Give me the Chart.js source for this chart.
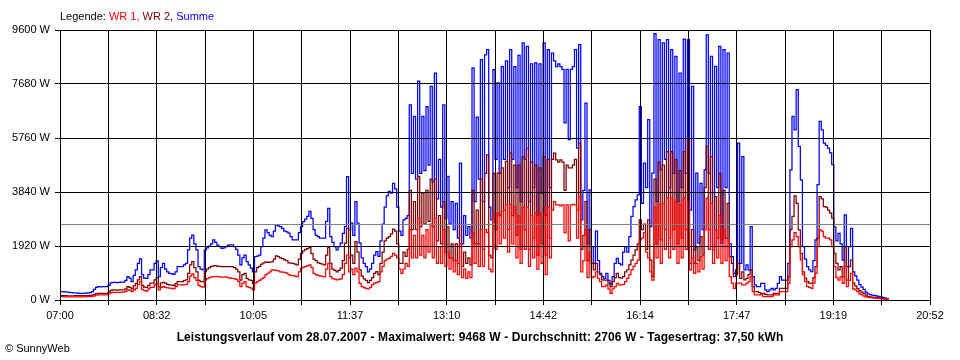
<!DOCTYPE html>
<html>
<head>
<meta charset="utf-8">
<script src="https://cdn.jsdelivr.net/npm/chart.js@4/dist/chart.umd.min.js"></script>
<style>
  html, body { margin: 0; padding: 0; background: #fff; }
  body { width: 960px; height: 360px; position: relative; overflow: hidden;
         font-family: "Liberation Sans", Arial, sans-serif; font-size: 11px; color: #000; }
  #chart { position: absolute; left: 0; top: 0; }
  .legend { position: absolute; left: 60px; top: 10px; line-height: 13px; white-space: nowrap; }
  .title { position: absolute; left: 0; width: 960px; top: 330px; text-align: center; font-size: 12px;
           letter-spacing: 0.1px; font-weight: bold; line-height: 14px; white-space: nowrap; }
  .copy { position: absolute; left: 5px; top: 342px; line-height: 13px; }
</style>
</head>
<body>
<canvas id="chart" width="960" height="360"></canvas>
<div class="legend">Legende: <span style="color:#ff0000">WR 1,</span> <span style="color:#800000">WR 2,</span> <span style="color:#0000ff">Summe</span></div>
<div class="title">Leistungsverlauf vom 28.07.2007 - Maximalwert: 9468 W - Durchschnitt: 2706 W - Tagesertrag: 37,50 kWh</div>
<div class="copy">&copy; SunnyWeb</div>
<script>
// one sample every 2 minutes starting at 07:00
const sampleStep = 2;
const xMax = 832; // 07:00 .. 20:52 in minutes
const timeLabels = ['07:00', '08:32', '10:05', '11:37', '13:10', '14:42', '16:14', '17:47', '19:19', '20:52'];
const averageWatt = 2706;

// WR 1 (W)
const wr1 = [
  120,120,115,115,110,110,110,115,115,120,
  115,115,118,120,120,130,150,170,178,178,
  178,180,180,220,260,273,273,270,273,280,
  280,310,356,340,300,360,415,550,650,380,
  330,320,400,450,450,540,590,356,450,475,
  450,430,420,410,400,480,534,534,534,550,
  560,650,850,925,800,700,520,480,460,710,
  760,800,820,830,830,830,820,810,810,820,
  800,780,770,760,730,650,475,600,650,475,
  450,420,356,600,650,700,750,800,890,950,
  1000,1070,1060,1050,1040,1000,990,980,960,900,
  880,870,850,830,1000,1130,1170,1190,1220,1250,
  1150,950,900,880,860,840,830,1100,1300,830,
  760,740,720,730,750,900,1300,1600,1000,1100,
  900,1130,1000,590,475,440,415,400,450,550,
  600,620,650,1000,1200,1400,1450,1480,1550,1660,
  1600,1500,1100,950,1100,1300,1200,2500,1500,2300,
  1500,2900,1600,2300,1500,2500,1700,2700,1500,2900,
  1300,1900,1300,2500,1200,1700,1100,1500,1000,1400,
  900,2000,800,1100,770,1000,800,2400,1300,2000,
  1200,2500,1200,2500,2400,1100,1000,3090,1800,3090,
  2000,3150,2200,3380,1700,3400,2000,3300,1500,3000,
  1300,3300,1800,3300,1200,3000,1500,3100,1100,3100,
  1300,3300,900,3300,1500,3200,3500,3380,3380,3350,
  3380,2400,3380,2100,3380,3400,3380,2200,3680,1000,
  1400,2500,800,1700,800,830,1000,770,650,475,
  475,534,400,240,400,475,590,534,534,560,
  650,770,900,1070,1200,1300,1420,2140,2200,2400,
  1700,1500,1000,710,3300,1500,3400,1300,3440,1800,
  3620,1500,3620,1800,3500,1300,3400,1500,3620,1800,
  3500,1070,1500,950,1300,1000,1540,1100,2490,3620,
  1800,3440,1300,2490,1500,3000,1300,2490,1400,2200,
  830,600,415,600,600,600,534,534,600,650,
  830,300,178,178,178,200,119,119,119,119,
  119,178,178,178,300,300,300,300,590,1900,
  2140,2400,2250,1900,1420,900,650,475,450,415,
  600,950,1900,2490,2450,2255,2200,2200,2140,1900,
  1190,800,710,830,590,1190,475,700,950,400,
  356,297,220,178,142,110,95,85,75,70,
  60,55,50,40,35,30,20
];

// WR 2 (W)
const wr2 = [
  160,160,155,150,150,150,150,155,155,160,
  155,155,155,160,165,170,200,230,237,237,
  237,240,240,280,340,356,356,350,356,360,
  360,400,475,450,400,500,593,720,830,520,
  460,450,520,600,600,720,795,470,600,630,
  600,560,540,530,520,580,650,650,650,690,
  720,950,1250,1365,1150,1000,700,650,650,1010,
  1100,1150,1200,1210,1220,1200,1200,1190,1190,1190,
  1190,1190,1190,1150,1100,1000,710,900,950,770,
  720,700,590,1000,1150,1200,1280,1320,1360,1340,
  1350,1360,1450,1570,1540,1500,1470,1430,1400,1320,
  1310,1300,1280,1250,1450,1660,1750,1800,1830,1875,
  1650,1450,1400,1320,1300,1280,1250,1600,1875,1300,
  1100,1050,1000,1050,1130,1400,2020,2550,1500,1600,
  1300,2080,1700,1070,850,750,700,620,700,800,
  950,1010,900,1300,1700,2100,2200,2250,2350,2520,
  2450,2000,1300,1300,1700,1550,1800,3900,2500,3500,
  2500,4400,2600,3800,2700,3900,2800,4300,2600,4300,
  2100,3000,2000,3500,1700,2600,1500,2000,1400,2000,
  1300,2700,1200,1700,1300,1500,1250,3900,2000,3200,
  2000,4300,1800,4500,5160,1600,1500,4500,2500,4510,
  3000,4700,3200,4930,2500,5220,3000,4800,2300,4800,
  1800,5100,2500,5400,1800,4900,2200,4800,1600,4700,
  2000,5100,1600,5000,2200,5000,5220,4985,4900,4985,
  4900,3900,4800,4700,4700,4800,5000,3200,5580,1800,
  2300,3500,1400,2500,1300,1070,1300,1000,900,720,
  710,710,600,470,650,800,950,800,780,830,
  1000,1070,1250,1420,1600,1780,2000,2850,2500,2700,
  1800,2850,1420,830,4300,2000,4900,2140,4800,2500,
  5280,2200,5280,2500,5000,2000,4600,2200,5280,2500,
  5700,1300,2500,1300,1900,1400,2255,1600,4000,5460,
  2500,5100,1780,3680,2200,4500,2140,3900,2200,3440,
  1540,1300,830,900,1300,770,1000,712,770,900,
  1070,475,297,297,260,240,240,200,178,178,
  178,240,240,240,415,415,415,415,830,2500,
  2970,3700,3440,2490,1660,1000,780,650,600,590,
  800,1190,2200,3680,3600,3320,3300,3200,3090,2910,
  1660,1300,1070,1190,830,1900,710,1190,1420,600,
  500,415,330,280,240,170,119,110,100,95,
  85,75,65,50,40,30,20
];

// Summe (W)
const summe = [
  300,300,290,280,270,260,255,250,245,240,
  240,240,245,250,260,300,380,450,475,470,
  475,480,475,520,610,630,630,620,630,640,
  640,700,830,780,650,880,1070,1300,1460,900,
  780,770,900,1070,1070,1300,1390,830,1150,1300,
  1100,1000,950,940,914,1000,1190,1190,1190,1250,
  1300,1780,2200,2310,2000,1780,1190,1100,1070,1780,
  1850,1920,2000,2140,2050,1950,1900,1840,1850,1900,
  1950,1960,1960,1900,1800,1600,1246,1500,1600,1365,
  1250,1130,1010,1540,1560,1600,1900,2200,2490,2400,
  2300,2255,2450,2670,2640,2610,2550,2450,2420,2380,
  2250,2140,2140,2140,2400,2610,2790,2880,2970,3150,
  2900,2500,2310,2250,2200,2200,2200,2800,3260,2255,
  2050,1900,1780,1900,2020,2370,2610,4390,2490,2730,
  2300,3500,2730,2020,1500,1300,1190,1000,1100,1300,
  1600,1720,1550,2100,2700,3300,3700,3860,3800,4150,
  3950,3300,2450,2300,2850,2900,3000,6940,4500,6530,
  4300,7780,4500,6530,4600,6880,4800,7600,4200,8070,
  3600,5000,3300,6940,2900,4400,2700,3500,2500,3440,
  2200,4870,2000,3000,2300,2610,2200,8250,3500,6500,
  4300,8550,3500,8720,8900,3300,2850,8190,5000,7720,
  4500,8300,5000,8500,4000,8900,5000,8300,4000,8700,
  3500,9140,5000,9020,3500,8400,4000,8430,3000,8400,
  3800,9140,3000,8900,4000,8780,8500,8300,8400,8300,
  8200,6300,8200,5700,8200,8300,8900,5400,9080,2850,
  3900,7000,2000,3920,1900,1300,2450,1400,950,830,
  760,950,700,560,830,1300,1480,1300,1250,1700,
  1900,1700,2250,2970,3320,3560,3740,6880,3440,4870,
  4000,6410,2610,4510,9468,3500,9260,4630,9140,5000,
  9260,4000,8900,4500,8660,3500,8070,4000,9280,4500,
  9260,3200,7600,1780,4510,2020,4150,2500,4630,9430,
  4500,8660,1900,8310,4000,9020,2020,8900,4000,8780,
  2000,1540,950,1070,5580,1300,5100,1070,1250,1070,
  2610,830,534,475,475,590,590,356,297,356,
  415,356,415,590,830,710,710,710,1300,4630,
  6530,6050,7480,5460,4270,1900,1450,1190,1070,1010,
  1400,2140,4100,6350,6050,5580,5500,5400,5230,4810,
  2600,2100,2370,2000,1420,3030,1190,1900,2550,1000,
  860,710,550,460,380,280,214,195,175,165,
  145,130,115,90,75,60,30
];

const minutes = summe.map((_, i) => i * sampleStep);
const toPoints = values => values.map((v, i) => ({ x: minutes[i], y: v }));

// 18 grid intervals, every second one labelled
const gridMinutes = [];
for (let i = 0; i <= 18; i++) gridMinutes.push(i * xMax / 18);

const fontFamily = '"Liberation Sans", Arial, sans-serif';
Chart.defaults.font.family = fontFamily;
Chart.defaults.font.size = 11;
Chart.defaults.color = '#000';

// grey line at the day average
const averageLine = {
  id: 'averageLine',
  afterDatasetsDraw(chart) {
    const { ctx, chartArea, scales } = chart;
    const y = Math.round(scales.y.getPixelForValue(averageWatt)) + 0.5;
    ctx.save();
    ctx.strokeStyle = '#808080';
    ctx.lineWidth = 1;
    ctx.beginPath();
    ctx.moveTo(chartArea.left, y);
    ctx.lineTo(chartArea.right, y);
    ctx.stroke();
    ctx.restore();
  }
};

const ctx = document.getElementById('chart').getContext('2d');
new Chart(ctx, {
  type: 'line',
  data: {
    datasets: [
      { label: 'WR 1', data: toPoints(wr1), borderColor: '#ff0000' },
      { label: 'WR 2', data: toPoints(wr2), borderColor: '#800000' },
      { label: 'Summe', data: toPoints(summe), borderColor: '#0000ff' }
    ]
  },
  options: {
    responsive: false,
    animation: false,
    layout: { padding: { top: 30, right: 30, left: 0, bottom: 0 } },
    elements: {
      point: { radius: 0 },
      line: { borderWidth: 1.25, tension: 0, stepped: true, fill: false }
    },
    plugins: { legend: { display: false }, tooltip: { enabled: false } },
    scales: {
      x: {
        type: 'linear',
        min: 0,
        max: xMax,
        afterBuildTicks: axis => { axis.ticks = gridMinutes.map(v => ({ value: v })); },
        afterFit: axis => { axis.height = 60; },
        grid: { color: '#000', lineWidth: 1, tickLength: 5, z: 1 },
        border: { color: '#000', z: 1 },
        ticks: {
          autoSkip: false,
          maxRotation: 0,
          padding: 4,
          color: '#000',
          callback: (value, index) => index % 2 === 0 ? timeLabels[index / 2] : ''
        }
      },
      y: {
        min: 0,
        max: 9600,
        afterFit: axis => { axis.width = 60; },
        grid: { color: '#000', lineWidth: 1, tickLength: 5, z: 1 },
        border: { color: '#000', z: 1 },
        ticks: {
          stepSize: 1920,
          padding: 5,
          color: '#000',
          callback: v => v + ' W'
        }
      }
    }
  },
  plugins: [averageLine]
});
</script>
</body>
</html>
